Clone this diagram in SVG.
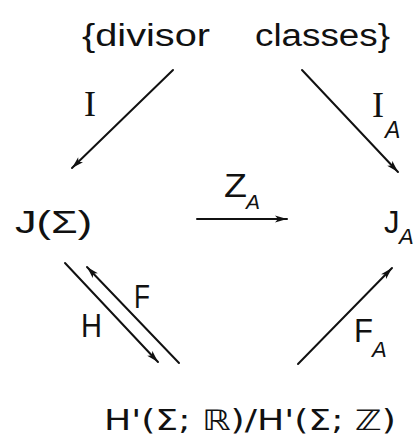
<svg xmlns="http://www.w3.org/2000/svg" width="414" height="446" viewBox="0 0 414 446">
<defs>
<marker id="ah" markerUnits="userSpaceOnUse" markerWidth="14" markerHeight="10" refX="12" refY="4" orient="auto">
<path d="M0,0.5 L12,4 L0,7.5 L3,4 z" fill="#111"/>
</marker>
</defs>
<style>
.t{font-family:"Liberation Sans","DejaVu Sans",sans-serif;fill:#111}
.s{font-family:"DejaVu Sans","Liberation Sans",sans-serif;fill:#111}
.r{font-family:"Liberation Serif","DejaVu Serif",serif;fill:#111}
.sub{font-family:"Liberation Sans","DejaVu Sans",sans-serif;font-style:italic;fill:#111}
.a{stroke:#111;stroke-width:2;fill:none;stroke-linecap:round;marker-end:url(#ah)}
</style>
<rect width="414" height="446" fill="#fff"/>
<g id="divisor-classes">
<text class="t" x="82" y="46" font-size="31" textLength="128" lengthAdjust="spacingAndGlyphs">{divisor</text>
<text class="t" x="255" y="46" font-size="31" textLength="135" lengthAdjust="spacingAndGlyphs">classes}</text>
</g>
<g id="J-Sigma">
<text class="t" x="15" y="233" font-size="31" textLength="77" lengthAdjust="spacingAndGlyphs">J(Σ)</text>
</g>
<g id="J-A">
<text class="t" x="384" y="233" font-size="31">J</text>
<text class="sub" x="399" y="244" font-size="22">A</text>
</g>
<g id="H-quotient">
<text class="s" x="104" y="430" font-size="28" textLength="292" lengthAdjust="spacingAndGlyphs">H'(Σ; ℝ)/H'(Σ; ℤ)</text>
</g>
<g id="connectors">
<line class="a" x1="173" y1="70" x2="72" y2="168"/>
<line class="a" x1="302" y1="70" x2="398" y2="172"/>
<line class="a" x1="197" y1="219" x2="287" y2="219"/>
<line class="a" x1="65" y1="263" x2="158" y2="362"/>
<line class="a" x1="179" y1="363" x2="87" y2="267"/>
<line class="a" x1="298" y1="364" x2="392" y2="268"/>
</g>
<g id="labels">
<text class="r" x="90" y="116" font-size="36" text-anchor="middle">I</text>
<text class="r" x="378" y="117" font-size="36" text-anchor="middle">I</text>
<text class="sub" x="385" y="138" font-size="23">A</text>
<text class="t" x="224" y="197" font-size="34" textLength="23" lengthAdjust="spacingAndGlyphs">Z</text>
<text class="sub" x="246" y="209" font-size="21">A</text>
<text class="t" x="134" y="308" font-size="34" textLength="16" lengthAdjust="spacingAndGlyphs">F</text>
<text class="t" x="81" y="337" font-size="34" textLength="21" lengthAdjust="spacingAndGlyphs">H</text>
<text class="t" x="354" y="342" font-size="33" textLength="19" lengthAdjust="spacingAndGlyphs">F</text>
<text class="sub" x="372" y="357" font-size="22">A</text>
</g>
</svg>
